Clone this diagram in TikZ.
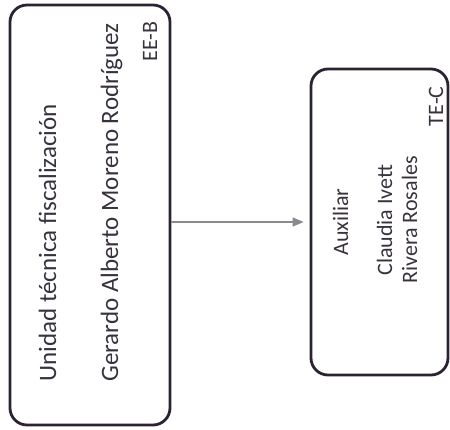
\documentclass[tikz,border=0pt]{standalone}
\usepackage{fontspec}
\setmainfont{Carlito}
\usetikzlibrary{arrows.meta}
\begin{document}
\begin{tikzpicture}[
    x=.5pt,y=-.5pt,
    font=\fontsize{12.5}{14}\selectfont,
    puesto/.style={draw=linea,line width=1.4pt,rounded corners=8.5pt,inner sep=0pt},
    rotulo/.style={text=tinta,rotate=90,inner sep=0pt},
    chico/.style={font=\fontsize{11}{13}\selectfont},
    enlace/.style={draw=flecha,line width=.55pt,-{Triangle[length=5.5pt,width=4.5pt]},shorten >=3pt}
  ]
    \definecolor{linea}{HTML}{2B2331}
    \definecolor{tinta}{HTML}{38323D}
    \definecolor{flecha}{HTML}{8A8A8E}
    \path[use as bounding box] (0,0) rectangle (450,429);
    \node[puesto,minimum width=80pt,minimum height=210pt] (unidad) at (90,215) {};
    \node[puesto,minimum width=68.5pt,minimum height=153pt] (auxiliar) at (379.5,222) {};
    \node[rotulo,anchor=base west] (titulo) at (56,382) {Unidad técnica fiscalización};
    \node[rotulo,anchor=base west] (titular) at (118,382) {Gerardo Alberto Moreno Rodríguez};
    \node[rotulo,chico,anchor=base east] (claveb) at (157,21) {EE-B};
    \node[rotulo,chico,anchor=base] (cargo) at (348,222) {Auxiliar};
    \node[rotulo,chico,anchor=base] (nombre) at (392,220) {Claudia Ivett};
    \node[rotulo,chico,anchor=base] (apellido) at (417,220) {Rivera Rosales};
    \node[rotulo,chico,anchor=base east] (clavec) at (443,86) {TE-C};
    \draw[enlace] (unidad.east |- auxiliar.west) -- (auxiliar.west);
  \end{tikzpicture}
\end{document}
